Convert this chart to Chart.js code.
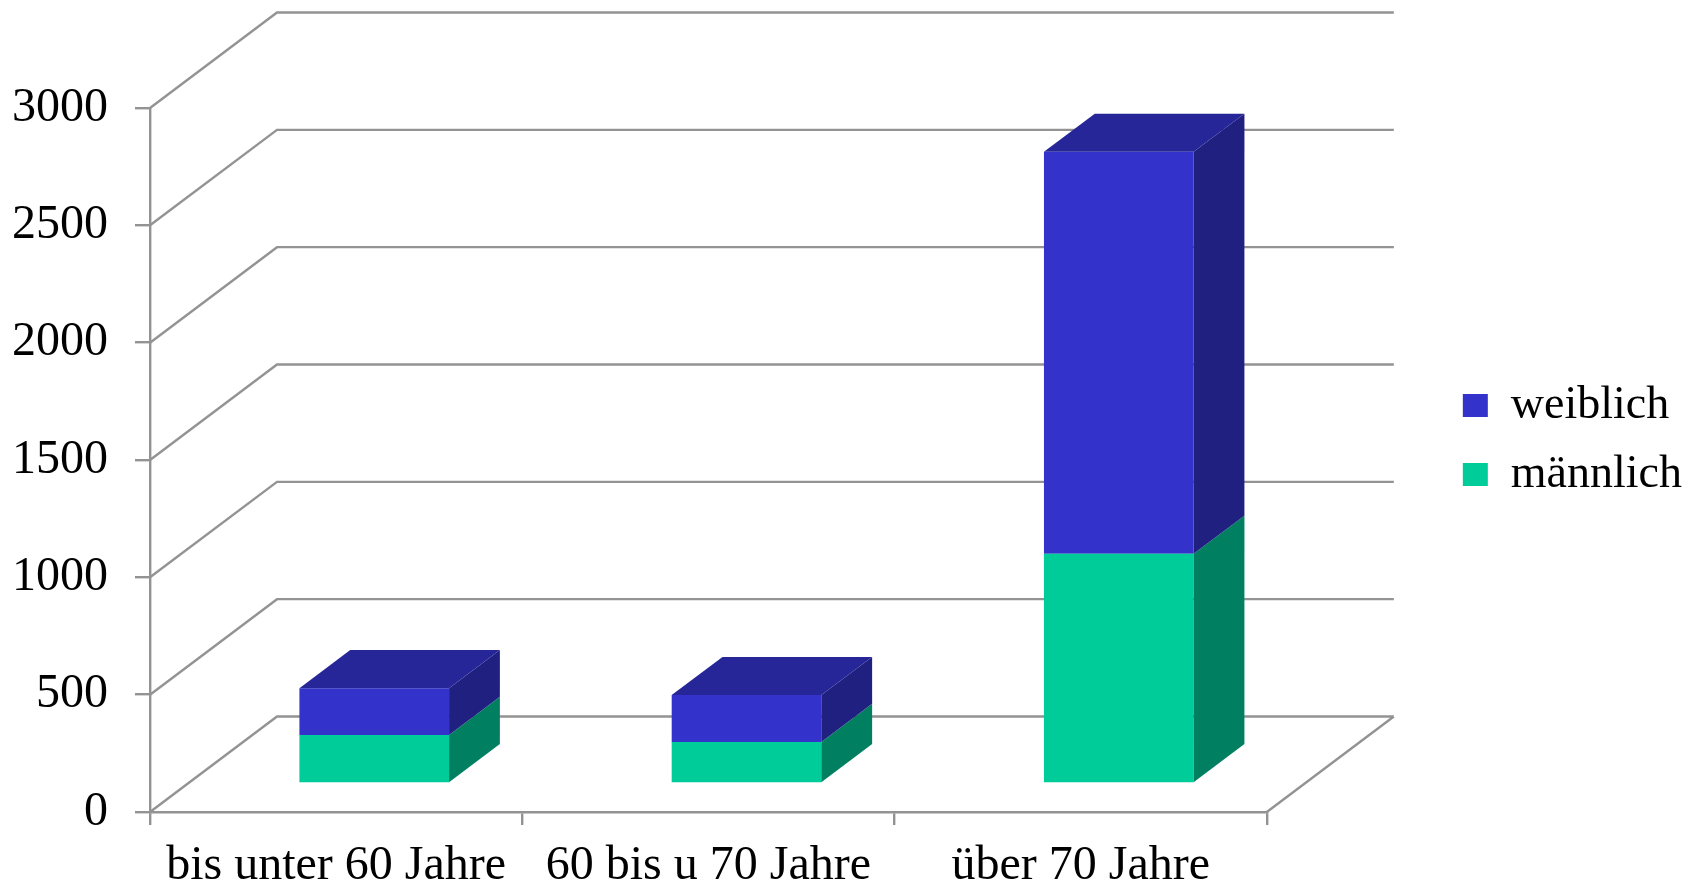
<!DOCTYPE html>
<html lang="de">
<head>
  <meta charset="UTF-8">
  <title>weiblich / männlich nach Altersgruppe</title>
  <style>
    html, body { margin: 0; padding: 0; background: #ffffff; }
    #wrap { width: 1696px; height: 889px; }
  </style>
</head>
<body>
  <div id="wrap"><canvas id="chart"></canvas></div>

  <script src="https://cdn.jsdelivr.net/npm/chart.js@4.4.3/dist/chart.umd.min.js"></script>
  <script>
    // Data
    const categories = ['bis unter 60 Jahre', '60 bis u 70 Jahre', 'über 70 Jahre'];
    const maennlich = [206, 176, 978];
    const weiblich = [199, 200, 1713];
    const yTicks = [0, 500, 1000, 1500, 2000, 2500, 3000];

    // Look of the fake 3D
    const FONT = "'Liberation Serif', 'Times New Roman', serif";
    const GRID = '#939393';
    const DEPTH = { x: 127, y: -95.5 };   // floor depth, front edge to back wall
    const BAR_FRONT = 0.30, BAR_BACK = 0.70; // where the bars sit in that depth

    const walls3d = {
      id: 'walls3d',
      beforeDatasetsDraw(chart) {
        const { ctx, chartArea: a, scales: { y } } = chart;
        ctx.save();
        ctx.strokeStyle = GRID;
        ctx.lineWidth = 2.4;
        ctx.beginPath();
        yTicks.forEach(v => {
          const py = y.getPixelForValue(v);
          ctx.moveTo(a.left, py);
          ctx.lineTo(a.left + DEPTH.x, py + DEPTH.y);
          ctx.lineTo(a.right + DEPTH.x, py + DEPTH.y);
        });
        // right edge of the floor
        const p0 = y.getPixelForValue(0);
        ctx.moveTo(a.right, p0);
        ctx.lineTo(a.right + DEPTH.x, p0 + DEPTH.y);
        ctx.stroke();
        ctx.restore();

        // push the bars back onto the floor
        ctx.save();
        ctx.translate(DEPTH.x * BAR_FRONT, DEPTH.y * BAR_FRONT);
      },
      afterDatasetsDraw(chart) {
        const ctx = chart.ctx;
        const bx = DEPTH.x * (BAR_BACK - BAR_FRONT);
        const by = DEPTH.y * (BAR_BACK - BAR_FRONT);
        const last = chart.data.datasets.length - 1;
        chart.data.datasets.forEach((ds, di) => {
          const meta = chart.getDatasetMeta(di);
          meta.data.forEach(bar => {
            const { x, y, base, width } = bar.getProps(['x', 'y', 'base', 'width'], true);
            const l = x - width / 2, r = x + width / 2;
            // side face
            ctx.fillStyle = ds.sideColor;
            ctx.beginPath();
            ctx.moveTo(r, y);
            ctx.lineTo(r + bx, y + by);
            ctx.lineTo(r + bx, base + by);
            ctx.lineTo(r, base);
            ctx.closePath();
            ctx.fill();
            // top face only on the top segment
            if (di === last) {
              ctx.fillStyle = ds.topColor;
              ctx.beginPath();
              ctx.moveTo(l, y);
              ctx.lineTo(l + bx, y + by);
              ctx.lineTo(r + bx, y + by);
              ctx.lineTo(r, y);
              ctx.closePath();
              ctx.fill();
            }
          });
        });
        ctx.restore();
      }
    };

    const ctx = document.getElementById('chart').getContext('2d');
    const chart = new Chart(ctx, {
      type: 'bar',
      data: {
        labels: categories,
        datasets: [
          {
            label: 'männlich',
            data: maennlich,
            backgroundColor: '#00cc99',
            sideColor: '#008060',
            topColor: '#00a37a',
            borderWidth: 0
          },
          {
            label: 'weiblich',
            data: weiblich,
            backgroundColor: '#3333cc',
            sideColor: '#202080',
            topColor: '#262699',
            borderWidth: 0
          }
        ]
      },
      options: {
        responsive: true,
        maintainAspectRatio: false,
        animation: false,
        layout: { padding: { top: 0, right: 4, bottom: 9, left: 0 } },
        datasets: {
          bar: { categoryPercentage: 1, barPercentage: 0.402 }
        },
        scales: {
          x: {
            stacked: true,
            grid: { drawOnChartArea: false, tickLength: 13, color: GRID, lineWidth: 2.4 },
            border: { color: GRID, width: 2.4 },
            ticks: {
              font: { family: FONT, size: 48 },
              color: '#000',
              padding: 13,
              maxRotation: 0,
              autoSkip: false
            },
            afterFit(s) { s.height = 68; }
          },
          xTop: {
            type: 'category',
            position: 'top',
            grid: { display: false },
            border: { display: false },
            ticks: { display: false },
            afterFit(s) { s.height = 108; }
          },
          y: {
            stacked: true,
            min: yTicks[0],
            max: yTicks[yTicks.length - 1],
            ticks: {
              stepSize: yTicks[1] - yTicks[0],
              font: { family: FONT, size: 48 },
              color: '#000',
              padding: 27,
              callback: v => String(v)
            },
            grid: { drawOnChartArea: false, tickLength: 15, color: GRID, lineWidth: 2.4 },
            border: { color: GRID, width: 2.4 },
            afterFit(s) { s.width = 150; }
          },
          yRight: {
            type: 'linear',
            position: 'right',
            grid: { display: false },
            border: { display: false },
            ticks: { display: false },
            afterFit(s) { s.width = 173; }
          }
        },
        plugins: {
          legend: {
            position: 'right',
            reverse: true,
            labels: {
              font: { family: FONT, size: 46 },
              color: '#000',
              boxWidth: 25,
              boxHeight: 23,
              padding: 23
            }
          },
          tooltip: { enabled: false }
        }
      },
      plugins: [walls3d]
    });
  </script>
</body>
</html>
